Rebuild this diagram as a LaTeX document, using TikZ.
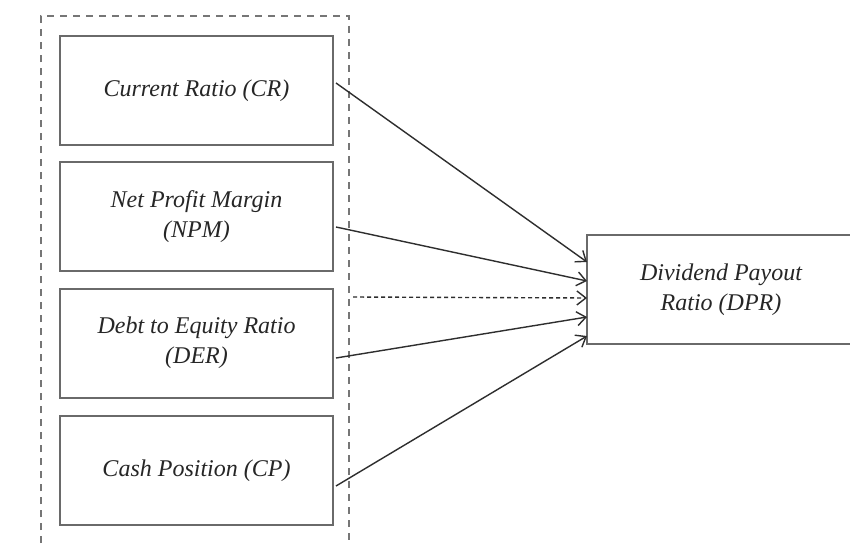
\documentclass[tikz,border=0pt]{standalone}
\usepackage{fontspec}
\setmainfont{Liberation Serif}
\usetikzlibrary{arrows.meta}
\definecolor{boxgray}{HTML}{6A6A6A}
\definecolor{linegray}{HTML}{2E2E2E}
\definecolor{dashgray}{HTML}{767676}
\begin{document}
\begin{tikzpicture}[x=1pt,y=-1pt,
  varbox/.style={draw=boxgray, line width=2pt, minimum width=273pt, minimum height=109pt,
    align=center, inner sep=0pt, font=\fontsize{24}{30}\selectfont\itshape, text=black!85},
  conn/.style={draw=linegray, line width=1.4pt, -{Straight Barb[length=9pt,width=14pt]}},
  dconn/.style={conn, dash pattern=on 4pt off 3pt},
  frame/.style={draw=dashgray, line width=2pt, dash pattern=on 7pt off 6pt}]
\useasboundingbox (0,0) rectangle (850,543);
\fill[white] (0,0) rectangle (850,543);
% dashed group frame (open at the bottom)
\coordinate (fl) at (41,543);
\coordinate (ftl) at (41,16);
\coordinate (ftr) at (349,16);
\coordinate (fr) at (349,543);
\draw[frame] (fl) -- (ftl) -- (ftr) -- (fr);
% independent variables
\node[varbox] (cr)  at (196.5,90.5)  {Current Ratio (CR)};
\node[varbox] (npm) at (196.5,216.5) {Net Profit Margin\\(NPM)};
\node[varbox] (der) at (196.5,343)   {Debt to Equity Ratio\\(DER)};
\node[varbox] (cp)  at (196.5,470.5) {Cash Position (CP)};
% dependent variable
\node[varbox, minimum width=268pt, minimum height=109pt] (dpr) at (721,289.5) {Dividend Payout\\Ratio (DPR)};
% connector end points
\coordinate (s1) at (336,83);
\coordinate (s2) at (336,227);
\coordinate (s3) at (353,297);
\coordinate (s4) at (336,358);
\coordinate (s5) at (336,486);
\coordinate (t1) at (587,262);
\coordinate (t2) at (587,281);
\coordinate (t3) at (587,298);
\coordinate (t4) at (587,317);
\coordinate (t5) at (587,336);
\draw[conn] (s1) -- (t1);
\draw[conn] (s2) -- (t2);
\draw[dconn] (s3) -- (t3);
\draw[conn] (s4) -- (t4);
\draw[conn] (s5) -- (t5);
\end{tikzpicture}
\end{document}
